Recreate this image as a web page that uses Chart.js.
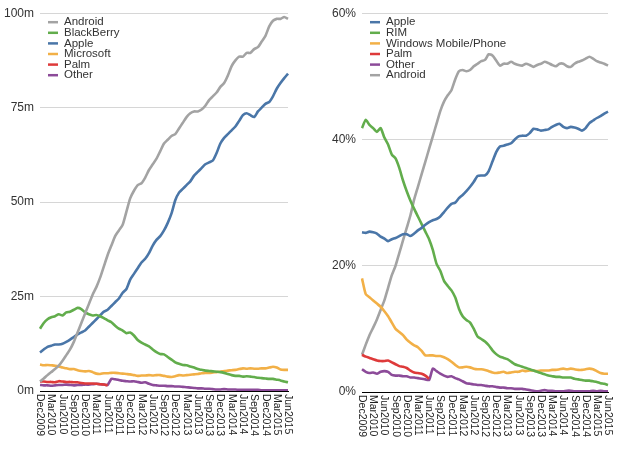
<!DOCTYPE html>
<html><head><meta charset="utf-8">
<script src="https://cdn.jsdelivr.net/npm/chart.js@4/dist/chart.umd.min.js"></script>
<style>html,body{margin:0;padding:0;background:#fff}#w{display:flex;width:620px;height:454px}.c{position:relative;width:310px;height:454px}</style>
</head><body><div id="w"><div class="c"><canvas id="a"></canvas></div><div class="c"><canvas id="b"></canvas></div></div>
<script>
const months = [];
(function(){const m=['Jan','Feb','Mar','Apr','May','Jun','Jul','Aug','Sep','Oct','Nov','Dec'];let y=2009,k=11;for(let i=0;i<67;i++){months.push(m[k]+y);k++;if(k>11){k=0;y++;}}})();
const leftAndroid=[2.5,3.3,4.2,5,5.8,6.7,8,9.5,11,13,15.5,18,20.5,23,25.5,27.5,30,33,36,38.5,41,42.5,44,47.5,51,53,54.5,55,56.5,58.5,60,61.5,63.5,65.5,66.5,67.5,68,69.5,71,72.5,73.5,74,74,74.5,75.5,77,78,79,80.5,81.5,83.5,86,87.5,88.5,88.5,89.5,89.5,90.5,91,92.5,94,96.5,98,98.5,98.5,99,98.5];
const leftBlackBerry=[16.5,18,19,19.5,19.8,20.3,20,20.8,21,21.5,22,21.7,20.8,20.3,20,20.1,19.8,19.3,18.7,18.2,17.3,16.5,16,15.3,15.5,14.7,13.5,12.8,12.3,11.8,11,10.3,9.8,9.7,9,8.3,7.6,7.2,6.9,6.8,6.5,6.2,5.8,5.6,5.4,5.3,5.2,5.1,5,4.8,4.5,4.2,4,4,3.8,3.9,3.8,3.7,3.5,3.4,3.3,3.2,3.2,3,2.8,2.5,2.3];
const leftApple=[10.2,11,11.7,12,12.3,12.3,12.5,13,13.6,14.3,15,15.5,16,17,18,19,20,21,21.5,22.5,23.5,24.5,26,27,29.5,31,32.5,34,35,36.5,38.5,40,41,42.5,44.5,47,50.5,52.5,53.5,54.5,55.5,57,58,59,60,60.5,61,63,65.5,67,68,69,70,71.5,73,73.5,73,72.5,74,75,76,76.5,78,80,81.5,82.8,84];
const leftMicrosoft=[7,6.8,6.9,6.8,6.7,6.5,6.2,6,5.8,5.8,5.5,5.3,5.2,5.3,5,4.6,4.5,4.7,4.7,4.8,4.8,4.7,4.6,4.5,4.4,4.2,4,4.1,4.1,4.2,4.1,4.2,4.2,4,3.8,3.7,3.9,4.2,4.1,4.2,4.3,4.4,4.5,4.7,4.8,4.8,4.9,5,5.1,5.3,5.4,5.5,5.6,5.8,6,5.9,6,5.9,5.9,6,6,6.2,6.4,6.2,5.7,5.6,5.6];
const leftPalm=[2.5,2.5,2.4,2.4,2.3,2.6,2.5,2.4,2.4,2.3,2.3,2.1,2.0,2.0,2.0,1.9,1.8,1.7,1.5];
const leftOther=[1.6,1.5,1.5,1.4,1.5,1.6,1.6,1.7,1.6,1.5,1.6,1.6,1.7,1.7,1.8,1.9,1.8,1.7,1.6,3.2,3.1,2.9,2.7,2.6,2.5,2.6,2.4,2.2,2.3,1.9,1.6,1.5,1.4,1.4,1.3,1.3,1.2,1.2,1.1,1.0,0.9,0.8,0.7,0.7,0.6,0.6,0.5,0.4,0.4,0.5,0.4,0.4,0.4,0.3,0.3,0.3,0.3,0.3,0.3,0.2,0.2,0.2,0.2,0.2,0.2,0.2,0.2];
const rightApple=[25.3,25.2,25.4,25.3,25.1,24.6,24.3,23.9,24.2,24.4,24.7,25,25,24.7,25.1,25.6,26,26.5,26.9,27.2,27.4,27.8,28.5,29.2,29.8,30,30.7,31.2,31.8,32.5,33.3,34.2,34.3,34.3,35,36.5,38,38.9,39,39.2,39.4,40,40.5,40.6,40.6,41,41.7,41.6,41.4,41.5,41.6,42,42.3,42.5,42,41.8,42,41.9,41.7,41.4,41.8,42.6,43,43.4,43.7,44.1,44.4];
const rightRIM=[41.8,43.1,42.3,41.8,41.2,41.8,40.3,39.2,37.6,37,35.5,33.5,31.8,30.3,29,27.8,26.6,25.4,24.2,22.5,20.3,19.2,17.6,16.8,16.1,15,13.2,12,11.4,11,10,8.8,8.4,8,7.4,6.6,6,5.6,5.4,5.2,4.8,4.4,4.2,4,3.8,3.6,3.4,3.2,3,2.8,2.6,2.5,2.4,2.4,2.3,2.3,2.3,2.1,2,1.9,1.8,1.8,1.7,1.6,1.4,1.3,1.1];
const rightWindows=[18,15.5,15,14.5,14,13.5,12.8,12,11,10,9.5,9,8.3,7.8,7.4,7.1,6.5,5.8,5.8,5.8,5.7,5.7,5.5,5.2,4.8,4.3,3.9,3.9,4,3.9,3.7,3.6,3.6,3.5,3.3,3.1,3,3.1,3.2,3,3.1,3.2,3.2,3.4,3.3,3.4,3.4,3.3,3.4,3.4,3.4,3.5,3.5,3.6,3.7,3.6,3.7,3.6,3.5,3.5,3.6,3.7,3.6,3.3,3,2.9,2.9];
const rightPalm=[5.9,5.6,5.4,5.2,5,4.9,4.9,5,4.7,4.4,4.1,4,3.8,3.4,3.1,3,2.9,2.6,2.1];
const rightOther=[3.6,3.2,3,3.1,2.9,3.2,3.3,3.2,2.7,2.6,2.6,2.5,2.5,2.3,2.3,2.2,2.1,2.0,1.9,3.7,3.3,2.9,2.6,2.4,2.5,2.2,2,1.7,1.4,1.3,1.2,1.1,1.1,1,0.9,0.9,0.8,0.7,0.7,0.6,0.6,0.5,0.5,0.5,0.4,0.3,0.2,0.1,0.2,0.3,0.2,0.2,0.1,0.1,0.1,0.2,0.2,0.1,0.1,0.1,0.1,0.1,0.2,0.1,0.2,0.1,0.1];
const rightAndroid=[5.9,7.5,9,10.2,11.5,13,14.5,16.5,18.5,20,22,24,26,28,30.5,32.5,34.5,36.5,38.5,40.5,42.5,44.5,46,47,47.8,49.5,50.8,51,50.8,51,51.6,52,52.4,52.6,53.5,53.3,52.5,51.7,52,52,52.3,52,51.8,51.7,52,51.8,51.5,51.8,52,52.3,52.1,51.8,51.6,52,52,51.6,51.5,52,52.3,52.5,52.8,53.1,52.8,52.4,52.2,52,51.7];
const leftTicks=[0,25,50,75,100], rightTicks=[0,20,40,60];
const C={gray:'#a3a3a3',green:'#62ad4c',blue:'#4a76a8',orange:'#f2b047',red:'#de3a3a',purple:'#8c4b99'};
const FONT='"Liberation Sans", Arial, sans-serif';

const xLabels={id:'xLabels',afterDraw(ch){const s=ch.scales.x,c=ch.ctx;c.save();c.fillStyle='#222';c.font='10.5px '+FONT;c.textAlign='left';c.textBaseline='middle';
 for(let i=0;i<months.length;i+=3){const x=s.getPixelForValue(i);c.save();c.translate(x,s.top+3);c.rotate(Math.PI/2);c.fillText(months[i],0,0);c.restore();}c.restore();}};
const legendP={id:'legendP',afterDraw(ch){const c=ch.ctx,a=ch.chartArea;c.save();c.font='11.5px '+FONT;c.textBaseline='middle';
 ch.data.datasets.forEach((d,i)=>{const y=a.top+9+i*10.6;c.strokeStyle=d.borderColor;c.lineWidth=2.5;c.beginPath();c.moveTo(a.left+8,y);c.lineTo(a.left+18,y);c.stroke();c.fillStyle='#333';c.fillText(d.label,a.left+24,y);});c.restore();}};

function ds(label,data,col){return {label,data,borderColor:col,backgroundColor:col,borderWidth:2.6,pointRadius:0,tension:0.2,spanGaps:false};}
function make(id,datasets,ticks,max,suffix,yw,padR,xh){
 new Chart(document.getElementById(id),{type:'line',data:{labels:months,datasets},
 plugins:[xLabels,legendP],
 options:{responsive:false,animation:false,devicePixelRatio:1,
  layout:{padding:{left:2,right:padR,top:10,bottom:0}},
  plugins:{legend:{display:false},tooltip:{enabled:false}},
  scales:{
   x:{type:'category',ticks:{display:false},grid:{display:false},border:{display:true,color:'#000',width:1},afterFit:s=>{s.height=xh;}},
   y:{min:0,max:max,afterBuildTicks:s=>{s.ticks=ticks.map(v=>({value:v}));},afterFit:s=>{s.width=yw;},
      ticks:{color:'#333',font:{size:12,family:FONT},padding:6,callback:v=>v+suffix},
      grid:{color:'#d6d6d6',drawTicks:false,lineWidth:1},border:{display:false}}
  }}});
}
document.getElementById('a').width=310;document.getElementById('a').height=454;
document.getElementById('b').width=310;document.getElementById('b').height=454;
make('a',[ds('Android',leftAndroid,C.gray),ds('BlackBerry',leftBlackBerry,C.green),ds('Apple',leftApple,C.blue),ds('Microsoft',leftMicrosoft,C.orange),ds('Palm',leftPalm,C.red),ds('Other',leftOther,C.purple)],leftTicks,100,'m',38,22,63);
make('b',[ds('Apple',rightApple,C.blue),ds('RIM',rightRIM,C.green),ds('Windows Mobile/Phone',rightWindows,C.orange),ds('Palm',rightPalm,C.red),ds('Other',rightOther,C.purple),ds('Android',rightAndroid,C.gray)],rightTicks,60,'%',50,12,62);
</script></body></html>
